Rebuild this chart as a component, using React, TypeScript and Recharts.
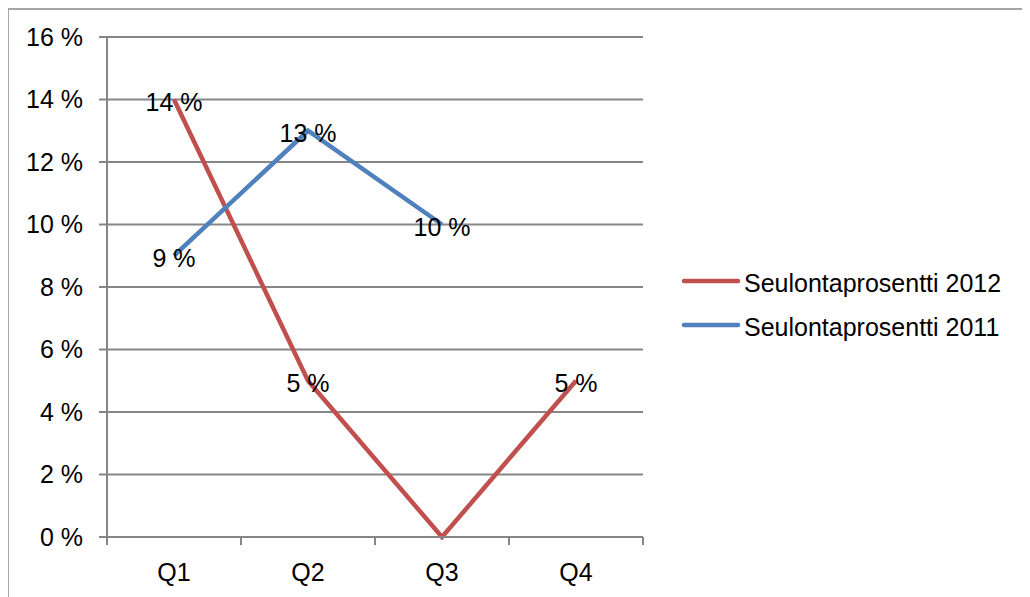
import { LineChart, Line, XAxis, YAxis, CartesianGrid, LabelList } from "recharts";

const quarters = ["Q1", "Q2", "Q3", "Q4"];
const values2012 = [14, 5, 0, 5];
const values2011: (number | null)[] = [9, 13, 10, null];
const yTicks = [0, 2, 4, 6, 8, 10, 12, 14, 16];

const series = [
  { key: "s2012", name: "Seulontaprosentti 2012", color: "#C0504D" },
  { key: "s2011", name: "Seulontaprosentti 2011", color: "#4F81BD" },
];

const data = quarters.map((q, i) => ({
  q,
  s2012: values2012[i],
  s2011: values2011[i],
}));

const FONT = "'Liberation Sans', Arial, sans-serif";
const FS = 25;
const AXIS = "#868686";
const CHART_W = 1022;
const CHART_H = 589;
const MARGIN = { top: 27, right: 388, bottom: 0, left: 0 };
const Y_W = 98;
const BAND = (CHART_W - MARGIN.left - MARGIN.right - Y_W) / quarters.length;

const XTick = (props: any) => {
  const { x, y, payload, index } = props;
  return (
    <g>
      <line x1={x - BAND / 2} y1={y} x2={x - BAND / 2} y2={y + 8} stroke={AXIS} strokeWidth={2} />
      {index === quarters.length - 1 && (
        <line x1={x + BAND / 2} y1={y} x2={x + BAND / 2} y2={y + 8} stroke={AXIS} strokeWidth={2} />
      )}
      <text x={x} y={y + 35} textAnchor="middle" dominantBaseline="central" fontSize={FS} fill="#000" fontFamily={FONT}>
        {payload.value}
      </text>
    </g>
  );
};

// the original shows no label for the 0 % point
const PointLabel = (props: any) => {
  const { x, y, value } = props;
  if (value === null || value === undefined || value === 0) return null;
  return (
    <text x={x} y={y + 2} textAnchor="middle" dominantBaseline="central" fontSize={FS} fill="#000" fontFamily={FONT}>
      {`${value} %`}
    </text>
  );
};

const LegendBox = () => (
  <svg width={360} height={90} style={{ position: "absolute", left: 659, top: 257 }}>
    {series.map((s, i) => (
      <g key={s.key}>
        <line x1={16} y1={14 + i * 44} x2={70} y2={14 + i * 44} stroke={s.color} strokeWidth={4.5} strokeLinecap="round" />
        <text x={76} y={16 + i * 44} dominantBaseline="central" fontSize={FS} fill="#000" fontFamily={FONT}>
          {s.name}
        </text>
      </g>
    ))}
  </svg>
);

export default function App() {
  return (
    <div
      style={{
        position: "relative",
        width: CHART_W,
        height: CHART_H,
        borderTop: "2px solid #a6a6a6",
        borderLeft: "2px solid #a6a6a6",
        marginLeft: -1,
        background: "#fff",
      }}
    >
      <LineChart width={CHART_W} height={CHART_H} data={data} margin={MARGIN}>
        <CartesianGrid vertical={false} stroke={AXIS} strokeWidth={2} />
        <XAxis
          dataKey="q"
          height={62}
          stroke={AXIS}
          strokeWidth={2}
          tickLine={false}
          tickSize={0}
          tickMargin={0}
          tick={<XTick />}
          interval={0}
          padding={{ left: BAND / 2, right: BAND / 2 }}
        />
        <YAxis
          width={Y_W}
          domain={[0, 16]}
          ticks={yTicks}
          interval={0}
          stroke={AXIS}
          strokeWidth={2}
          tickSize={8}
          tickMargin={16}
          tickFormatter={(v) => `${v} %`}
          tick={{ fill: "#000", fontSize: FS, fontFamily: FONT }}
        />
        {series.map((s) => (
          <Line
            key={s.key}
            dataKey={s.key}
            name={s.name}
            stroke={s.color}
            strokeWidth={4.5}
            dot={false}
            activeDot={false}
            isAnimationActive={false}
          >
            <LabelList dataKey={s.key} content={<PointLabel />} />
          </Line>
        ))}
      </LineChart>
      <LegendBox />
    </div>
  );
}
